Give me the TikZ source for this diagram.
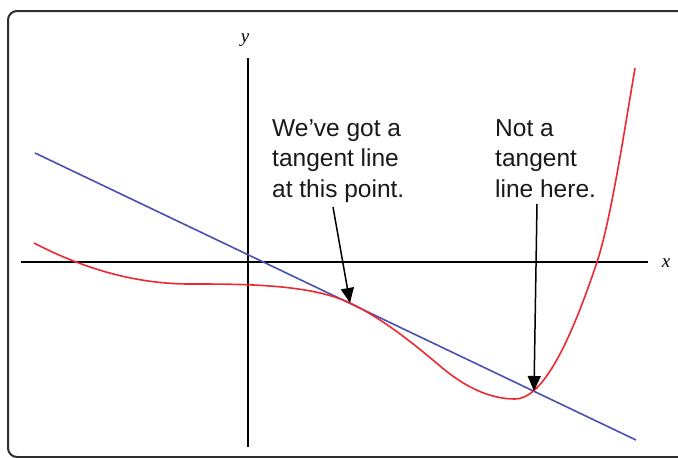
\documentclass[tikz,border=0pt]{standalone}
\usepackage{fontspec}
\setmainfont{Liberation Sans}
\newfontfamily\axisfont{Liberation Serif}
\usetikzlibrary{arrows.meta}
\definecolor{curvered}{RGB}{238,40,48}
\definecolor{lineblue}{RGB}{72,80,178}
\definecolor{framegray}{RGB}{45,45,45}
\tikzset{
  framebox/.style={draw=framegray, line width=2pt, rounded corners=9pt},
  axis/.style={draw=black, line width=1.3pt},
  axlabel/.style={font=\axisfont\itshape\fontsize{19}{19}\selectfont, inner sep=0pt},
  tanline/.style={draw=lineblue, line width=1.6pt},
  fcurve/.style={draw=curvered, line width=1.6pt},
  note/.style={font=\fontsize{24.5}{30.5}\selectfont, align=left, inner sep=0pt, anchor=base west, text=black!90},
  pointer/.style={draw=black, line width=1.5pt, -{Triangle[length=15pt,width=13pt]}}
}
\begin{document}
\begin{tikzpicture}[x=1pt,y=-1pt]
\useasboundingbox (0,0) rectangle (678,458);
\clip (0,0) rectangle (678,458);
\draw[framebox] (8,11) rectangle (720,457);
% axes
\coordinate (xl) at (21,262);
\coordinate (xr) at (648,262);
\coordinate (yt) at (248,58);
\coordinate (yb) at (248,447);
\draw[axis] (xl) -- (xr);
\draw[axis] (yt) -- (yb);
\node[axlabel] (xlab) at (666,263) {x};
\node[axlabel] (ylab) at (245,40) {y};
% tangent line
\coordinate (b1) at (35,153);
\coordinate (b2) at (636,440);
\draw[tanline] (b1) -- (b2);
% curve
\coordinate (tp1) at (350,303);
\coordinate (tp2) at (534,391);
\draw[fcurve] (34,243) .. controls (86,270) and (138,284) .. (190,284)
  .. controls (243,284) and (310,284) .. (tp1)
  .. controls (380,317.3) and (410,340.5) .. (440,366)
  .. controls (465,387.25) and (490,399) .. (515,399)
  .. controls (542.3,399) and (569.7,344) .. (597,262)
  .. controls (609.7,224) and (622.3,144) .. (635,68);
% notes
\node[note] (n1) at (272,197) {We’ve got a\\tangent line\\at this point.};
\node[note] (n2) at (495,197) {Not a\\tangent\\line here.};
\coordinate (a1) at (333,207);
\coordinate (a2) at (537,204);
\draw[pointer] (a1) -- (tp1);
\draw[pointer] (a2) -- (tp2);
\end{tikzpicture}
\end{document}
